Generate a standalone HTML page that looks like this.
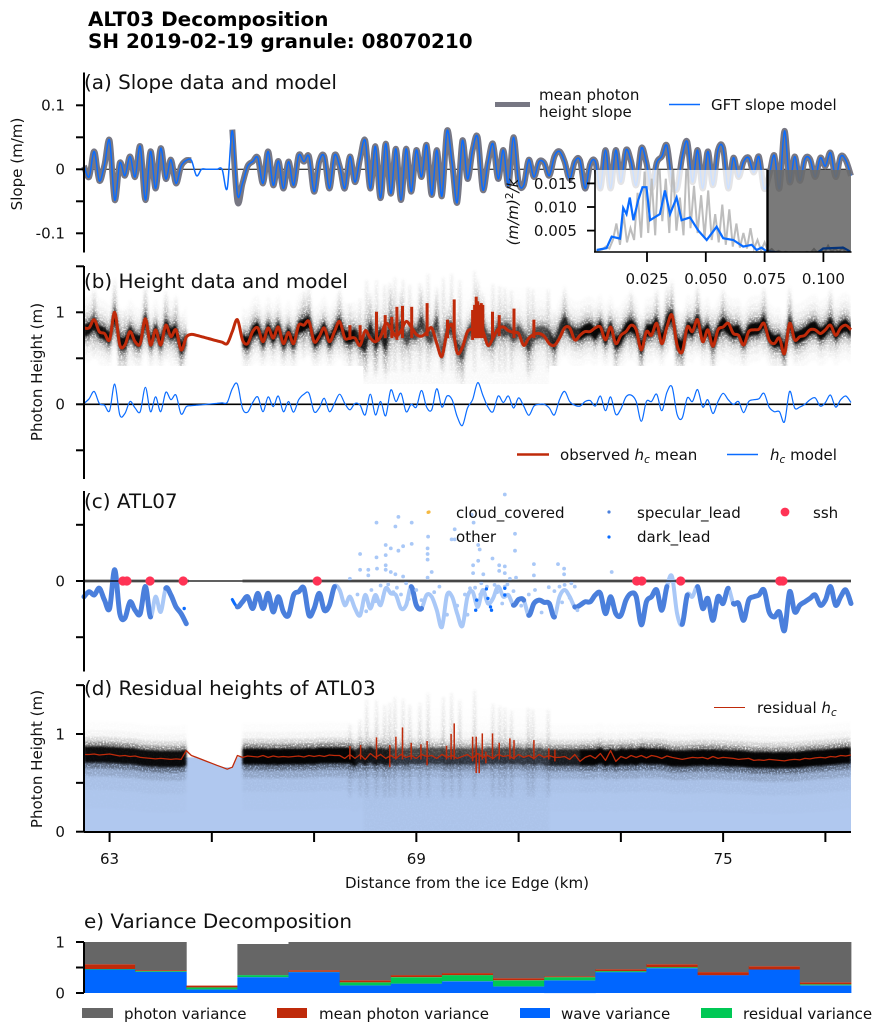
<!DOCTYPE html>
<html lang="en">
<head>
<meta charset="utf-8">
<title>ALT03 Decomposition</title>
<style>
html,body{margin:0;padding:0;background:#fff;width:883px;height:1033px;overflow:hidden}
svg{display:block}
text{font-family:"DejaVu Sans","Liberation Sans",sans-serif;fill:#111}
.tk{font-size:15.05px}
.ttl{font-size:19.95px}
.sup{font-size:19.95px;font-weight:bold;fill:#000}
.lg{font-size:15.05px}
.it{font-style:italic}
</style>
</head>
<body>
<svg id="figure" xmlns="http://www.w3.org/2000/svg" width="883" height="1033" viewBox="0 0 883 1033">
<defs>
<linearGradient id="gradStreak" x1="0" y1="0" x2="0" y2="1">
<stop offset="0" stop-color="#000" stop-opacity=".05"/>
<stop offset=".5" stop-color="#000" stop-opacity=".2"/>
<stop offset="1" stop-color="#000" stop-opacity=".06"/>
</linearGradient>
<linearGradient id="gradPlume" x1="0" y1="0" x2="0" y2="1">
<stop offset="0" stop-color="#000" stop-opacity="0"/>
<stop offset=".5" stop-color="#000" stop-opacity=".32"/>
<stop offset="1" stop-color="#000" stop-opacity="0"/>
</linearGradient>
<linearGradient id="gradHaze" x1="0" y1="0" x2="0" y2="1">
<stop offset="0" stop-color="#000" stop-opacity="0"/>
<stop offset=".45" stop-color="#000" stop-opacity=".03"/>
<stop offset="1" stop-color="#000" stop-opacity=".022"/>
</linearGradient>
<filter id="speck" filterUnits="userSpaceOnUse" x="0" y="0" width="883" height="1033">
<feGaussianBlur stdDeviation="1.3 1" result="b"/>
<feTurbulence type="fractalNoise" baseFrequency=".62" numOctaves="2" seed="3" result="n"/>
<feColorMatrix in="n" type="matrix" values="0 0 0 0 0 0 0 0 0 0 0 0 0 0 0 0 0 0 3 -.6" result="m"/>
<feComposite in="b" in2="m" operator="in"/>
</filter>
<filter id="soft" filterUnits="userSpaceOnUse" x="0" y="0" width="883" height="1033">
<feGaussianBlur stdDeviation="1 1.1"/>
</filter>
<clipPath id="clipInset"><rect x="595" y="170" width="256" height="82"/></clipPath>
<clipPath id="clipPlotD"><rect x="84" y="685" width="767" height="147"/></clipPath>
</defs>

<g id="layerA"></g>
<g id="layerB"></g>
<g id="layerC"></g>
<g id="layerD"></g>
<g id="layerE"></g>
<g id="layerInset"></g>

<text class="sup" x="88" y="26">ALT03 Decomposition</text>
<text class="sup" x="88" y="48">SH 2019-02-19 granule: 08070210</text>

<text class="ttl" x="84" y="89">(a) Slope data and model</text>
<text class="ttl" x="84" y="288">(b) Height data and model</text>
<text class="ttl" x="84" y="508">(c) ATL07</text>
<text class="ttl" x="84" y="695">(d) Residual heights of ATL03</text>
<text class="ttl" x="84" y="928">e) Variance Decomposition</text>

<text class="tk" transform="translate(22,164) rotate(-90)" text-anchor="middle">Slope (m/m)</text>
<text class="tk" transform="translate(42,372) rotate(-90)" text-anchor="middle">Photon Height (m)</text>
<text class="tk" transform="translate(42,759) rotate(-90)" text-anchor="middle">Photon Height (m)</text>
<text class="tk" x="467" y="888" text-anchor="middle">Distance from the ice Edge (km)</text>
<text class="tk" transform="translate(518,212) rotate(-90)" text-anchor="middle"><tspan class="it">(m/m)</tspan><tspan dy="-5" font-size="10.5">2</tspan><tspan dy="5" class="it">/k</tspan></text>

<g>
<line x1="495" x2="530" y1="104.5" y2="104.5" stroke="#777783" stroke-width="5"/>
<text class="lg" x="539" y="100">mean photon</text>
<text class="lg" x="539" y="117">height slope</text>
<line x1="669" x2="700" y1="104.5" y2="104.5" stroke="#0a6cff" stroke-width="1.5"/>
<text class="lg" x="711" y="110">GFT slope model</text>
</g>
<g>
<line x1="517" x2="549" y1="454.5" y2="454.5" stroke="#bf2a0a" stroke-width="2.5"/>
<text class="lg" x="560" y="460">observed <tspan class="it">h</tspan><tspan class="it" dy="3" font-size="10.5">c</tspan><tspan dy="-3"> mean</tspan></text>
<line x1="727" x2="758" y1="454.5" y2="454.5" stroke="#0a6cff" stroke-width="1.5"/>
<text class="lg" x="770" y="460"><tspan class="it">h</tspan><tspan class="it" dy="3" font-size="10.5">c</tspan><tspan dy="-3"> model</tspan></text>
</g>
<g>
<circle cx="429" cy="512" r="1.6" fill="#f5b942"/>
<text class="lg" x="456" y="518">cloud_covered</text>
<text class="lg" x="456" y="542">other</text>
<circle cx="609" cy="512" r="1.6" fill="#4a7fdc"/>
<text class="lg" x="637" y="518">specular_lead</text>
<circle cx="609" cy="537" r="1.6" fill="#0a6cff"/>
<text class="lg" x="637" y="542">dark_lead</text>
<circle cx="785" cy="512" r="4.4" fill="#ff3355"/>
<text class="lg" x="813" y="518">ssh</text>
</g>
<g>
<line x1="714" x2="745" y1="707.5" y2="707.5" stroke="#bf2a0a" stroke-width="1"/>
<text class="lg" x="757" y="713">residual <tspan class="it">h</tspan><tspan class="it" dy="3" font-size="10.5">c</tspan></text>
</g>
<g>
<rect x="82" y="1008" width="31" height="10" fill="#666"/>
<text class="lg" x="124" y="1019">photon variance</text>
<rect x="277" y="1008" width="30" height="10" fill="#bf2a0a"/>
<text class="lg" x="319" y="1019">mean photon variance</text>
<rect x="520" y="1008" width="30" height="10" fill="#0066ff"/>
<text class="lg" x="561" y="1019">wave variance</text>
<rect x="701" y="1008" width="31" height="10" fill="#00c855"/>
<text class="lg" x="743" y="1019">residual variance</text>
</g>
</svg>

<script>
/* ---------- data (samples every 0.1 km from 62.5 km) ---------- */
const slopeData = [
.005,-.012,.028,-.018,.007,.045,-.048,.01,-.01,.02,
-.012,.036,-.048,.028,-.03,.033,-.015,.015,-.022,.005,
.014,.014,null,null,null,null,null,null,null,.062,
-.05,-.022,.005,.012,.018,-.022,.028,-.025,.013,-.03,
.012,-.025,.022,.012,.02,-.035,.012,.02,-.03,.022,
.005,-.03,.02,-.02,.017,.045,-.03,.036,-.045,.04,
-.038,.032,-.048,.032,-.035,.03,-.012,.038,-.04,.03,
-.042,.06,.01,-.052,.045,-.015,.03,.05,-.032,.01,
.04,-.015,.03,-.025,.05,-.02,-.025,.015,-.012,.012,
.01,-.01,.02,.028,.012,-.015,.012,.014,-.03,.008,
.012,-.03,.03,-.03,.03,-.02,.03,.012,-.025,.033,
.01,-.03,.01,.02,.037,-.02,-.03,.02,.043,-.02,
.03,-.03,.028,-.025,.03,.033,-.03,.018,-.012,.012,
.018,-.005,.02,-.03,-.01,.022,-.03,.06,-.02,.02,
-.018,.016,.016,-.012,.018,.005,.026,-.012,.02,.014,-.01];
const slopeModel = [
.005,-.012,.028,-.018,.007,.045,-.048,.01,-.01,.02,
-.012,.036,-.048,.028,-.03,.033,-.015,.015,-.022,.005,
.014,.014,-.01,0,0,0,0,0,-.03,.06,
-.04,-.022,.005,.012,.018,-.022,.028,-.025,.013,-.03,
.012,-.025,.022,.012,.02,-.035,.012,.02,-.03,.022,
.005,-.03,.02,-.02,.017,.045,-.03,.036,-.045,.04,
-.038,.032,-.048,.032,-.035,.03,-.012,.038,-.04,.03,
-.042,.06,.01,-.052,.045,-.015,.03,.05,-.032,.01,
.04,-.015,.03,-.025,.05,-.02,-.025,.015,-.012,.012,
.01,-.01,.02,.028,.012,-.015,.012,.014,-.03,.008,
.012,-.03,.03,-.03,.03,-.02,.03,.012,-.025,.033,
.01,-.03,.01,.02,.037,-.02,-.03,.02,.043,-.02,
.03,-.03,.028,-.025,.03,.033,-.03,.018,-.012,.012,
.018,-.005,.02,-.03,-.01,.022,-.03,.06,-.02,.02,
-.018,.016,.016,-.012,.018,.005,.026,-.012,.02,.014,-.01];
const hcMean = [
.83,.83,.92,.79,.77,.70,1.0,.645,.645,.79,
.68,.66,.93,.645,.81,.645,.86,.735,.81,.59,
.73,.76,.75,.735,.72,.705,.69,.675,.66,.79,
.92,.70,.66,.79,.83,.68,.83,.72,.84,.66,
.78,.66,.86,.86,.90,.68,.735,.83,.68,.79,
.90,.72,.72,.72,.64,.80,.72,.68,.735,.88,
.82,.74,.80,.90,.84,.76,.74,.78,.83,.66,
.52,.78,.86,.56,.62,.79,.82,.84,.80,.64,
.72,.82,.84,.80,.78,.77,.64,.72,.76,.77,
.74,.66,.64,.72,.83,.83,.70,.75,.79,.79,
.83,.84,.70,.84,.66,.75,.79,.86,.81,.59,
.79,.75,.88,.66,.84,.97,.645,.57,.84,.79,
.92,.68,.81,.63,.81,.84,.88,.77,.75,.645,
.79,.81,.815,.88,.70,.66,.72,.55,.88,.70,
.735,.75,.81,.81,.77,.81,.86,.75,.83,.86,.81];
const hcSpikeKm = [67.70,67.90,68.22,68.39,68.52,68.62,68.73,68.91,69.21,69.61,69.74,70.10,70.14,70.17,70.20,70.23,70.27,70.30,70.49,70.62,70.91,71.30];
const hcSpikeLow = [.70,.70,.70,.72,.72,.70,.72,.72,.74,.72,.72,.70,.72,.72,.72,.72,.72,.72,.70,.74,.72,.72];
const hcSpikeHigh = [.86,.86,1.007,.97,.95,1.06,1.07,1.06,1.10,.92,1.14,1.025,1.08,1.17,1.12,1.08,1.10,1.08,1.007,.97,1.04,.92];
const hcModel = [
.01,.06,.14,.01,-.01,-.07,.22,-.115,-.10,.03,
-.04,-.08,.185,-.08,.08,-.08,.13,.05,.10,-.105,
-.025,-.015,-.01,-.005,0,.005,.01,.015,.02,.17,
.22,-.045,-.085,.02,.08,-.08,.08,-.025,.09,-.08,
.03,-.085,.05,.11,.12,-.08,-.04,.065,-.08,.01,
.11,.01,-.06,.01,-.01,-.115,.11,-.115,.03,-.125,
.155,.03,.12,-.08,0,-.03,.15,-.03,-.06,.17,
-.03,.09,.05,-.135,-.23,-.04,.05,.235,.10,-.03,
-.08,.09,.02,.09,-.04,.07,-.02,-.12,-.02,0,
0,-.04,-.115,.05,.14,.03,-.01,-.02,.03,.04,
-.02,.09,-.07,.08,-.11,-.05,.08,.10,.03,-.185,
.03,.03,.11,-.07,.13,.19,-.11,-.15,.07,.03,
.16,-.03,.05,-.10,.03,.12,.05,0,.03,-.09,
.03,.05,.06,.12,-.03,-.08,-.08,-.19,.14,-.04,
-.03,0,.05,.07,-.02,.02,.10,-.03,.05,.09,.02];
const photonCenterB = [
.80,.82,.88,.79,.77,.71,.98,.66,.66,.79,
.70,.68,.93,.66,.81,.66,.86,.76,.80,.60,
.71,.76,.75,.735,.72,.705,.69,.675,.66,.79,
.92,.70,.66,.79,.83,.68,.83,.72,.84,.66,
.78,.66,.84,.86,.90,.68,.735,.83,.68,.79,
.88,.74,.72,.76,.68,.64,.84,.66,.78,.64,
.90,.78,.86,.70,.78,.76,.90,.76,.72,.90,
.54,.84,.82,.62,.54,.76,.84,.98,.84,.70,
.70,.84,.80,.82,.74,.80,.72,.64,.76,.78,
.78,.74,.64,.80,.90,.80,.76,.76,.80,.82,
.76,.85,.70,.84,.66,.72,.82,.86,.80,.60,
.80,.80,.88,.70,.90,.97,.66,.62,.84,.80,
.92,.74,.82,.66,.80,.88,.82,.78,.80,.68,
.80,.82,.82,.90,.74,.68,.70,.58,.90,.72,
.74,.77,.82,.84,.76,.80,.88,.76,.83,.86,.80];
const residualHc = [
.79,.79,.795,.785,.79,.795,.785,.775,.78,.77,
.775,.76,.755,.75,.745,.75,.745,.74,.745,.74,
.83,.78,.76,.74,.72,.70,.68,.66,.64,.66,
.78,.76,.775,.77,.765,.78,.76,.775,.765,.77,
.765,.77,.775,.765,.78,.77,.78,.77,.785,.78,
.78,.75,.79,.75,.79,.74,.80,.76,.79,.75,
.78,.75,.79,.76,.78,.75,.79,.77,.78,.75,
.79,.76,.78,.75,.77,.79,.75,.80,.76,.78,
.75,.79,.77,.78,.75,.79,.76,.78,.75,.79,
.76,.78,.76,.76,.77,.74,.79,.72,.76,.78,
.75,.80,.73,.83,.72,.77,.75,.78,.76,.78,
.755,.78,.77,.75,.775,.76,.75,.74,.75,.76,
.755,.76,.745,.77,.75,.76,.755,.75,.74,.745,
.75,.73,.735,.73,.74,.735,.73,.725,.735,.74,
.735,.75,.745,.755,.76,.755,.77,.765,.78,.775,.785];
const resSpikeKm = [67.70,67.91,68.22,68.48,68.60,68.73,68.90,69.09,69.21,69.59,69.68,69.74,70.10,70.17,70.23,70.29,70.36,70.49,70.62,70.83,70.91,71.30,71.59,71.71];
const resSpikeLow = [.74,.74,.74,.66,.74,.74,.74,.74,.68,.74,.74,.74,.72,.60,.60,.74,.70,.74,.74,.74,.74,.74,.74,.72];
const resSpikeHigh = [.877,.887,.965,.887,.972,1.068,.91,.894,.928,.88,1.0,1.109,.972,.972,.80,1.006,.82,1.006,.91,.955,.938,.938,.853,.84];
const atl07Height = [
-.14,-.095,-.125,-.065,-.17,-.245,.1,-.29,-.33,-.185,
-.26,-.29,-.05,-.32,-.14,-.275,-.065,-.125,-.23,-.29,
-.38,null,null,null,null,null,null,null,null,-.165,
-.23,-.185,-.14,-.245,-.11,-.245,-.11,-.275,-.14,-.275,
-.305,-.125,-.095,-.065,-.305,-.245,-.11,-.26,-.215,-.05,
-.08,-.215,-.14,-.245,-.305,-.125,-.245,-.125,-.215,-.065,
-.11,-.125,-.245,-.215,-.05,-.215,-.245,-.125,-.14,-.26,
-.41,-.125,-.14,-.29,-.40,-.14,-.095,-.23,-.08,-.2,
-.155,-.05,-.14,-.125,-.215,-.165,-.17,-.305,-.2,-.17,
-.19,-.2,-.32,-.14,-.08,-.14,-.23,-.215,-.185,-.185,
-.125,-.11,-.29,-.14,-.29,-.305,-.17,-.11,-.14,-.39,
-.185,-.14,-.08,-.26,-.05,.04,-.29,-.385,-.125,-.14,
-.05,-.245,-.155,-.35,-.14,-.2,-.065,-.2,-.2,-.35,
-.17,-.14,-.125,-.08,-.275,-.32,-.275,-.44,-.095,-.275,
-.215,-.185,-.155,-.125,-.215,-.17,-.05,-.215,-.14,-.08,-.2];
const atl07Class =
"SSSSSSSSSS"+"SSSSOOOSSS"+"S........D"+"DSSSSSSSSS"+"SSSSSSSSSS"+
"OOOOOOOOOO"+"OOOOOSSOOO"+"OOOOOOOOOO"+"OOOOOSSOSS"+"SSSOOOOSSS"+
"SSSSSSSSSS"+"SSSSSOOOSO"+"OSSSSSSOSS"+"SSSSSSSSSS"+"SSSSSSSSSSS";
const otherKm = [67.7,67.9,67.9,68.06,68.06,68.22,68.22,68.23,68.4,68.4,68.4,68.4,68.5,68.5,68.59,68.59,68.65,68.65,68.74,68.74,68.91,68.91,69.22,69.22,69.22,69.23,69.22,69.3,
70.73,70.08,70.12,69.75,69.69,69.75,70.93,70.93,70.21,70.24,70.21,70.49,70.11,70.11,70.31,70.62,70.62,70.73,70.73,71.3,71.3,71.77,71.89,71.89,70.95,70.83,72.82,72.03,70.05,70.27,70.53,70.73,71.32,71.59,71.8,71.9,72.1,
67.85,67.95,68.02,68.12,68.2,68.3,68.35,68.45,68.55,68.62,68.7,68.8,68.85,69.0,69.1,69.35,69.45,69.6,69.8,69.95,70.0,70.15,70.25,70.38,70.48,70.58,70.68,70.78,70.9,71.05,71.2,71.45,71.7,71.85,72.0,72.15];
const otherVal = [.02,.24,.1,.1,.05,.52,.21,.11,.32,.23,.14,.1,.29,.08,.485,.06,.57,.27,.31,.04,.52,.33,.29,.24,.19,.395,.03,.08,
.77,.59,.52,.46,.37,.37,.42,.27,.32,.28,.18,.2,.14,.07,.06,.14,.09,.13,.07,.15,.05,.15,.11,.06,.03,.02,.08,-.02,-.065,-.02,-.035,-.05,-.08,-.055,-.05,-.035,-.05,
-.12,-.22,-.27,-.08,-.18,-.04,-.14,-.03,-.1,-.06,-.12,-.02,-.16,-.08,-.17,-.1,-.05,-.3,-.22,-.12,-.3,-.06,-.12,-.05,-.17,-.1,-.2,-.03,-.09,-.22,-.12,-.28,-.09,-.19,-.15,-.26];
const darkKm = [70.37,70.40,70.45,70.47,70.18,70.16,70.73,70.73,64.46];
const darkVal = [-.07,-.155,-.23,-.26,-.17,-.26,-.065,-.125,-.245];
const cloudKm = [69.23];
const cloudVal = [.61];
const sshKm = [63.26,63.34,63.79,64.44,67.06,73.31,73.41,74.17,76.11,76.17];
const sshVal = [0,0,0,0,0,0,0,0,0,0];
const streakKm = [67.7,67.9,68.03,68.22,68.38,68.48,68.58,68.74,68.87,69.07,69.23,69.53,69.69,69.85,70.14,70.5,70.63,70.73,70.86,71.19,71.28,71.58];
const streakTop = [1.1,1.15,1.35,1.35,1.3,1.32,1.38,1.36,1.3,1.32,1.42,1.38,1.42,1.35,1.45,1.31,1.29,1.27,1.24,1.27,1.25,1.25];
const densityStart = [62.5,65.6,67.8,68.5,71.6,72.2];
const densityEnd = [64.5,67.8,68.5,71.6,72.2,77.5];
const densityLevel = [.95,1,.85,.62,.8,1];
const psdGray = [
.0006,.0008,.001,.0016,.0012,.003,.0065,.002,.0085,.0025,
.0055,.003,.013,.0035,.0175,.0045,.016,.004,.0215,.007,
.016,.0045,.019,.005,.012,.004,.0215,.0055,.0145,.0045,
.0125,.0035,.0135,.003,.0085,.0025,.0105,.002,.0095,.0016,
.0065,.0014,.0045,.0012,.0055,.0012,.003,.0008,.0025,.0006,
.0011,.0004,.0007,.0003,.0005,.0003,.0004,.0002,.0004,.0002,
.0005,.0003,.0011,.0003,.0008,.0004,.0018,.0005,.0012,.0004,.0014,.0004];
const psdFreq = [.0036,.0078,.0100,.0135,.0149,.0163,.0177,.0192,.0213,.0231,.0248,.0263,.0305,.0326,.0348,.0376,.0397,.0433,.0468,.0504,.0546,.0574,.0617,.0659,.0695,.0716,.0737,.0759,.0830,.0971,.0999,.1084,.1113];
const psdModel = [.0009,.0013,.0037,.0033,.0098,.0085,.0120,.0072,.0115,.0142,.0142,.0072,.0085,.0135,.0085,.0120,.0072,.0078,.0050,.0030,.0058,.0034,.0030,.0016,.0020,.0009,.0014,.0006,.0003,.0002,.0012,.0014,.0006];
const varianceWave = [.46,.415,.07,.31,.41,.15,.185,.23,.13,.25,.41,.487,.35,.46,.15];
const varianceResidual = [.01,.015,.04,.04,.005,.06,.125,.12,.12,.06,.02,.02,0,.002,.02];
const varianceMean = [.095,.017,.035,0,.032,.04,.04,.04,.04,.02,.037,.058,.06,.064,.04];
const variancePhoton = [.435,.553,0,.61,.553,.75,.65,.61,.71,.67,.533,.435,.59,.474,.79];
const xTicksKm = [63,65,67,69,71,73,75,77];
const xTickLabels = ["63","","","69","","","75",""];
const slopeTicks = [.1,.05,0,-.05,-.1];
const slopeTickLabels = ["0.1","","0","","-0.1"];
const heightTicks = [1.5,1,.5,0,-.5];
const heightTickLabels = ["","1","","0",""];
const atl07Ticks = [.5,0,-.5];
const atl07TickLabels = ["","0",""];
const residualTicks = [1.5,1,.5,0];
const residualTickLabels = ["","1","","0"];
const varianceTicks = [1,.5,0];
const varianceTickLabels = ["1","","0"];
const insetXTicks = [.025,.05,.075,.1];
const insetXLabels = ["0.025","0.050","0.075","0.100"];
const insetYTicks = [.015,.01,.005];
const insetYLabels = ["0.015","0.010","0.005"];

/* ---------- axis functions ---------- */
const kmAt = i => 62.5 + i * 0.1;
const xKm = km => 84 + (km - 62.5) * 51.13;
const yA = v => 169.3 - v * 640;
const yB = v => 404.3 - v * 92;
const yC = v => 581 - v * 112.4;
const yD = v => 831.7 - v * 97.7;
const yE = v => 993 - v * 51;
const xF = f => 647 + (f - .025) * 2352;
const yF = v => 254.2 - v * 4720;

const NS = "http://www.w3.org/2000/svg";
function mk(tag, attrs, parent) {
  const el = document.createElementNS(NS, tag);
  for (const k in attrs) el.setAttribute(k, attrs[k]);
  parent.appendChild(el);
  return el;
}
function linePath(values, yFn) {
  let d = "", pen = false;
  values.forEach((v, i) => {
    if (v === null) { pen = false; return; }
    d += (pen ? "L" : "M") + xKm(kmAt(i)).toFixed(1) + " " + yFn(v).toFixed(1);
    pen = true;
  });
  return d;
}
function bezierSegment(values, yFn, i) {
  const P = j => (values[j] === null || values[j] === undefined) ? null : [xKm(kmAt(j)), yFn(values[j])];
  const p = P(i), prev = P(i - 1), pp = P(i - 2) || prev, nx = P(i + 1) || p;
  const c1x = prev[0] + (p[0] - pp[0]) / 6, c1y = prev[1] + (p[1] - pp[1]) / 6;
  const c2x = p[0] - (nx[0] - prev[0]) / 6, c2y = p[1] - (nx[1] - prev[1]) / 6;
  return "C" + c1x.toFixed(1) + " " + c1y.toFixed(1) + " " + c2x.toFixed(1) + " " + c2y.toFixed(1) + " " + p[0].toFixed(1) + " " + p[1].toFixed(1);
}
function smoothPath(values, yFn) {
  let d = "";
  values.forEach((v, i) => {
    if (v === null) return;
    const prev = values[i - 1];
    if (prev === null || prev === undefined) { d += "M" + xKm(kmAt(i)).toFixed(1) + " " + yFn(v).toFixed(1); return; }
    d += bezierSegment(values, yFn, i);
  });
  return d;
}
function median(values, i) {
  const w = values.slice(Math.max(0, i - 2), i + 3).filter(v => v !== null).sort((a, b) => a - b);
  return w[Math.floor(w.length / 2)];
}
function yAxis(parent, yFn, ticks, labels, top, bottom) {
  const sp = mk("line", {x1: 84, x2: 84, y1: top, y2: bottom, stroke: "#000", "stroke-width": 2}, parent);
  
  
  ticks.forEach((t, i) => {
    const tk = mk("line", {x1: 76, x2: 84, y1: yFn(t), y2: yFn(t), stroke: "#000", "stroke-width": 2}, parent);
    
    
    if (labels[i]) {
      const lb = mk("text", {x: 65, y: yFn(t) + 5.4, "text-anchor": "end", class: "tk"}, parent);
      lb.textContent = labels[i];
      
      
    }
  });
}
function zeroLine(parent, y, w) {
  const l = mk("line", {x1: 84, x2: 851, y1: y, y2: y, stroke: "#000", "stroke-width": w}, parent);
  
  
}
/* photon density: nested ribbons that follow a centre series */
function photonRibbons(parent, centers, yFn, layers) {
  densityStart.forEach((start, s) => {
    const idx = [];
    centers.forEach((c, i) => { const km = kmAt(i); if (km >= start - .001 && km <= densityEnd[s] + .001) idx.push(i); });
    layers.forEach(layer => {
      let top = "", bot = "";
      idx.forEach((i, n) => {
        const x = xKm(kmAt(i)).toFixed(1);
        top += (n ? "L" : "M") + x + " " + yFn(centers[i] + layer[0]).toFixed(1);
        bot = "L" + x + " " + yFn(centers[i] - layer[1]).toFixed(1) + bot;
      });
      const band = mk("path", {d: top + bot + "Z", fill: "#000", opacity: (layer[2] * densityLevel[s]).toFixed(3)}, parent);
      
      
    });
  });
}
function streaks(parent, yFn) {
  streakKm.forEach((km, i) => {
    const top = streakTop[i];
    const r = mk("rect", {x: (xKm(km) - 1.4).toFixed(1), y: yFn(top).toFixed(1), width: 2.8, height: (yFn(.35) - yFn(top)).toFixed(1), fill: "url(#gradStreak)"}, parent);
    
    
  });
}
function spikes(parent, yFn, kms, lows, highs, width) {
  kms.forEach((km, i) => {
    const s = mk("line", {x1: xKm(km).toFixed(1), x2: xKm(km).toFixed(1), y1: yFn(lows[i]).toFixed(1), y2: yFn(highs[i]).toFixed(1), stroke: "#bf2a0a", "stroke-width": width}, parent);
    
    
  });
}

/* ---------- panel a ---------- */
const A = document.getElementById("layerA");
zeroLine(A, yA(0), 1);
const slopeGray = mk("path", {d: smoothPath(slopeData, yA), fill: "none", stroke: "#777783", "stroke-width": 6, "stroke-linejoin": "round"}, A);


const slopeBlue = mk("path", {d: smoothPath(slopeModel, yA), fill: "none", stroke: "#0a6cff", "stroke-width": 1.5}, A);


yAxis(A, yA, slopeTicks, slopeTickLabels, 72.5, 252.5);

/* ---------- panel b ---------- */
const B = document.getElementById("layerB");
const clipB = mk("clipPath", {id: "clipB"}, document.querySelector("defs"));
mk("path", {d: "M84 266H851V366H" + xKm(71.6) + "V384H" + xKm(67.96) + "V366H84Z"}, clipB);
const bOuter = mk("g", {"clip-path": "url(#clipB)"}, B);


const bTail = mk("g", {filter: "url(#speck)"}, bOuter);
const bHaze = mk("rect", {x: xKm(67.96), y: yB(1.3), width: xKm(71.6) - xKm(67.96), height: yB(.2) - yB(1.3), fill: "url(#gradHaze)"}, bTail);


streaks(bTail, yB);
hcModel.forEach((m, i) => {
  const km = kmAt(i);
  if (Math.abs(m) < .1 || photonCenterB[i] === undefined || (km > 64.5 && km < 65.6)) return;
  const plume = mk("rect", {x: (xKm(km) - 1.6).toFixed(1), y: yB(photonCenterB[i] + .4).toFixed(1), width: 3.2, height: (yB(photonCenterB[i] - .4) - yB(photonCenterB[i] + .4)).toFixed(1), fill: "url(#gradPlume)"}, bTail);
  
  
});
photonRibbons(bTail, photonCenterB, yB, [[.36, .36, .025], [.27, .27, .05], [.19, .19, .12], [.125, .125, .36]]);
const bCore = mk("g", {filter: "url(#soft)"}, bOuter);
photonRibbons(bCore, photonCenterB, yB, [[.07, .07, .95]]);
zeroLine(B, yB(0), 1.6);
const hcLine = mk("path", {d: smoothPath(hcMean, yB), fill: "none", stroke: "#bf2a0a", "stroke-width": 3, "stroke-linejoin": "round"}, B);


spikes(B, yB, hcSpikeKm, hcSpikeLow, hcSpikeHigh, 3);
const hcModelLine = mk("path", {d: smoothPath(hcModel, yB), fill: "none", stroke: "#0a6cff", "stroke-width": 1.2}, B);


yAxis(B, yB, heightTicks, heightTickLabels, 266, 479);

/* ---------- panel c ---------- */
const C = document.getElementById("layerC");
const band1 = mk("line", {x1: 84, x2: xKm(64.55), y1: yC(0), y2: yC(0), stroke: "#bdbdbd", "stroke-width": 4}, C);


const band2 = mk("line", {x1: xKm(65.6), x2: 851, y1: yC(0), y2: yC(0), stroke: "#bdbdbd", "stroke-width": 4}, C);


const classColor = {S: "#4a7fdc", O: "#a9c8f7", D: "#0a6cff"};
const classWidth = {S: 5, O: 4, D: 3};
["O", "D", "S"].forEach(cls => {
  let d = "";
  atl07Height.forEach((v, i) => {
    if (v === null || atl07Class[i] !== cls) return;
    const prev = atl07Height[i - 1];
    if (prev === null || prev === undefined) return;
    d += "M" + xKm(kmAt(i - 1)).toFixed(1) + " " + yC(prev).toFixed(1) + bezierSegment(atl07Height, yC, i);
  });
  const seg = mk("path", {d: d, fill: "none", stroke: classColor[cls], "stroke-width": classWidth[cls], "stroke-linecap": "round", "stroke-linejoin": "round"}, C);
  
  
});
otherKm.forEach((km, i) => {
  const p = mk("circle", {cx: xKm(km).toFixed(1), cy: yC(otherVal[i]).toFixed(1), r: 1.9, fill: "#a9c8f7"}, C);
  
  
});
darkKm.forEach((km, i) => {
  const p = mk("circle", {cx: xKm(km).toFixed(1), cy: yC(darkVal[i]).toFixed(1), r: 1.7, fill: "#0a6cff"}, C);
  
  
});
cloudKm.forEach((km, i) => {
  const p = mk("circle", {cx: xKm(km).toFixed(1), cy: yC(cloudVal[i]).toFixed(1), r: 1.6, fill: "#f5b942"}, C);
  
  
});
zeroLine(C, yC(0), 1.2);
sshKm.forEach((km, i) => {
  const p = mk("circle", {cx: xKm(km).toFixed(1), cy: yC(sshVal[i]).toFixed(1), r: 4.6, fill: "#ff3355"}, C);
  
  
});
yAxis(C, yC, atl07Ticks, atl07TickLabels, 491, 671.5);

/* ---------- panel d ---------- */
const D = document.getElementById("layerD");
const medianResidual = residualHc.map((v, i) => median(residualHc, i));
let fillD = "M84 " + yD(0);
medianResidual.forEach((v, i) => { fillD += "L" + xKm(kmAt(i)).toFixed(1) + " " + yD(v).toFixed(1); });
fillD += "L851 " + yD(0) + "Z";
const fillArea = mk("path", {d: fillD, fill: "#b0c8ef"}, D);


const dOuter = mk("g", {"clip-path": "url(#clipPlotD)"}, D);


const dTail = mk("g", {filter: "url(#speck)"}, dOuter);
const dHaze = mk("rect", {x: xKm(67.96), y: yD(1.3), width: xKm(71.6) - xKm(67.96), height: yD(0) - yD(1.3), fill: "url(#gradHaze)"}, dTail);


streaks(dTail, yD);
photonRibbons(dTail, medianResidual, yD, [[.34, .55, .012], [.25, .36, .035], [.18, .22, .14], [.13, .14, .38]]);
const dCore = mk("g", {filter: "url(#soft)"}, dOuter);
photonRibbons(dCore, medianResidual, yD, [[.085, .085, .97]]);
const resLine = mk("path", {d: linePath(residualHc, yD), fill: "none", stroke: "#bf2a0a", "stroke-width": 1.3, "stroke-linejoin": "round"}, D);


spikes(D, yD, resSpikeKm, resSpikeLow, resSpikeHigh, 1.5);
yAxis(D, yD, residualTicks, residualTickLabels, 685, 832);
const xSpine = mk("line", {x1: 84, x2: 851, y1: 832, y2: 832, stroke: "#000", "stroke-width": 2}, D);


xTicksKm.forEach((km, i) => {
  const tk = mk("line", {x1: xKm(km), x2: xKm(km), y1: 832, y2: 842, stroke: "#000", "stroke-width": 2}, D);
  
  
  if (xTickLabels[i]) {
    const lb = mk("text", {x: xKm(km), y: 864, "text-anchor": "middle", class: "tk"}, D);
    lb.textContent = xTickLabels[i];
    
    
  }
});

/* ---------- panel e ---------- */
const E = document.getElementById("layerE");
const stackSeries = [varianceWave, varianceResidual, varianceMean, variancePhoton];
const stackColors = ["#0066ff", "#00c855", "#bf2a0a", "#666666"];
varianceWave.forEach((w, b) => {
  let base = 0;
  stackSeries.forEach((series, s) => {
    const v = series[b];
    if (v > 0) {
      const r = mk("rect", {x: xKm(62.5 + b).toFixed(1), y: yE(base + v).toFixed(1), width: 51.6, height: (yE(base) - yE(base + v)).toFixed(1), fill: stackColors[s]}, E);
      
      
    }
    base += v;
  });
});
yAxis(E, yE, varianceTicks, varianceTickLabels, 942, 993);

/* ---------- inset ---------- */
const I = document.getElementById("layerInset");
const insetBg = mk("rect", {x: 595, y: 170, width: 256, height: 82, fill: "#fff", opacity: .8}, I);


const inner = mk("g", {"clip-path": "url(#clipInset)"}, I);
let grayD = "";
psdGray.forEach((v, i) => { grayD += (i ? "L" : "M") + xF(.003 + i * .0015).toFixed(1) + " " + yF(v).toFixed(1); });
const grayLine = mk("path", {d: grayD, fill: "none", stroke: "#bdbdbd", "stroke-width": 2}, inner);


let blueD = "";
psdFreq.forEach((f, i) => { blueD += (i ? "L" : "M") + xF(f).toFixed(1) + " " + yF(psdModel[i]).toFixed(1); });
const blueLine = mk("path", {d: blueD, fill: "none", stroke: "#0a6cff", "stroke-width": 2.2}, inner);


const patch = mk("rect", {x: 767.5, y: 170, width: 83.5, height: 82, fill: "#000", opacity: .52}, inner);


const cutoff = mk("line", {x1: 767.5, x2: 767.5, y1: 170, y2: 252, stroke: "#000", "stroke-width": 2.4}, I);


const inL = mk("line", {x1: 595, x2: 595, y1: 170, y2: 252, stroke: "#000", "stroke-width": 1.6}, I);


const inB = mk("line", {x1: 594, x2: 851.5, y1: 252, y2: 252, stroke: "#000", "stroke-width": 1.6}, I);


insetXTicks.forEach((f, i) => {
  const tk = mk("line", {x1: xF(f), x2: xF(f), y1: 252, y2: 262, stroke: "#000", "stroke-width": 1.8}, I);
  
  
  const lb = mk("text", {x: xF(f), y: 284, "text-anchor": "middle", class: "tk"}, I);
  lb.textContent = insetXLabels[i];
  
  
});
insetYTicks.forEach((v, i) => {
  const tk = mk("line", {x1: 587, x2: 595, y1: yF(v), y2: yF(v), stroke: "#000", "stroke-width": 1.8}, I);
  
  
  const lb = mk("text", {x: 577, y: yF(v) + 5.4, "text-anchor": "end", class: "tk"}, I);
  lb.textContent = insetYLabels[i];
  
  
});
</script>
</body>
</html>
